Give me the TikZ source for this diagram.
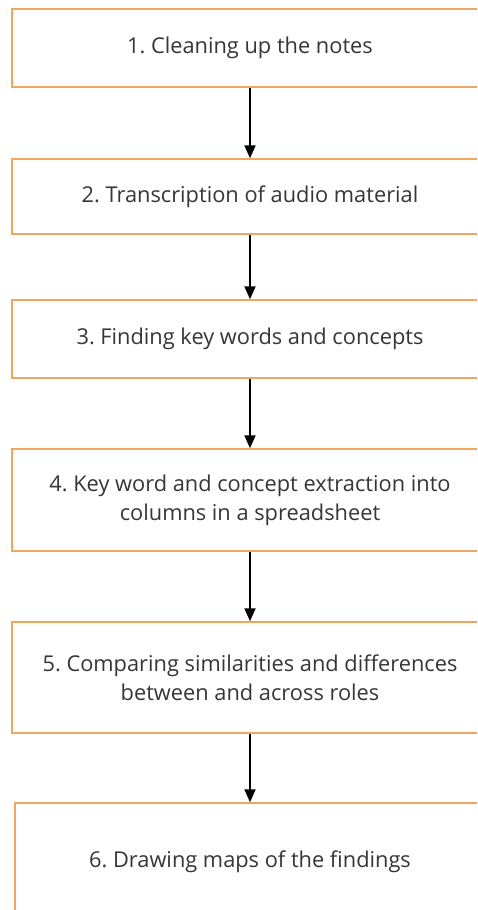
\documentclass[tikz,border=0pt]{standalone}
\usepackage{fontspec}
\setmainfont{Open Sans}
\usetikzlibrary{arrows.meta}
\definecolor{boxorange}{HTML}{F2A560}
\definecolor{textgrey}{HTML}{363636}
\frenchspacing
\begin{document}
\begin{tikzpicture}[x=1pt,y=1pt,
  stepbox/.style={draw=boxorange, line width=1.5pt, fill=white, rectangle,
    minimum width=476pt, inner sep=0pt, align=center, text=textgrey,
    font=\fontsize{21.8}{29}\selectfont},
  flow/.style={line width=2pt, -{Triangle[length=13pt,width=11pt]}}]
  \useasboundingbox (0,0) rectangle (477,-910);
  \clip (0,0) rectangle (477,-910);
  \fill[white] (0,0) rectangle (477,-910);

  \node[stepbox, minimum height=78pt]  (s1) at (250,-48)    {1. Cleaning up the notes};
  \node[stepbox, minimum height=75pt]  (s2) at (250,-196.5) {2. Transcription of audio material};
  \node[stepbox, minimum height=78pt]  (s3) at (250,-339)   {3. Finding key words and concepts};
  \node[stepbox, minimum height=102pt] (s4) at (250,-500)   {4. Key word and concept extraction into\\columns in a spreadsheet};
  \node[stepbox, minimum height=111pt] (s5) at (250,-677.5) {5. Comparing similarities and differences\\between and across roles};
  \node[stepbox, minimum height=118pt, minimum width=470pt] (s6) at (250,-862) {6. Drawing maps of the findings};

  \draw[flow] (s1.south) -- (s2.north);
  \draw[flow] (s2.south) -- (s3.north);
  \draw[flow] (s3.south) -- (s4.north);
  \draw[flow] (s4.south) -- (s5.north);
  \draw[flow] (s5.south) -- (s6.north);
\end{tikzpicture}
\end{document}
